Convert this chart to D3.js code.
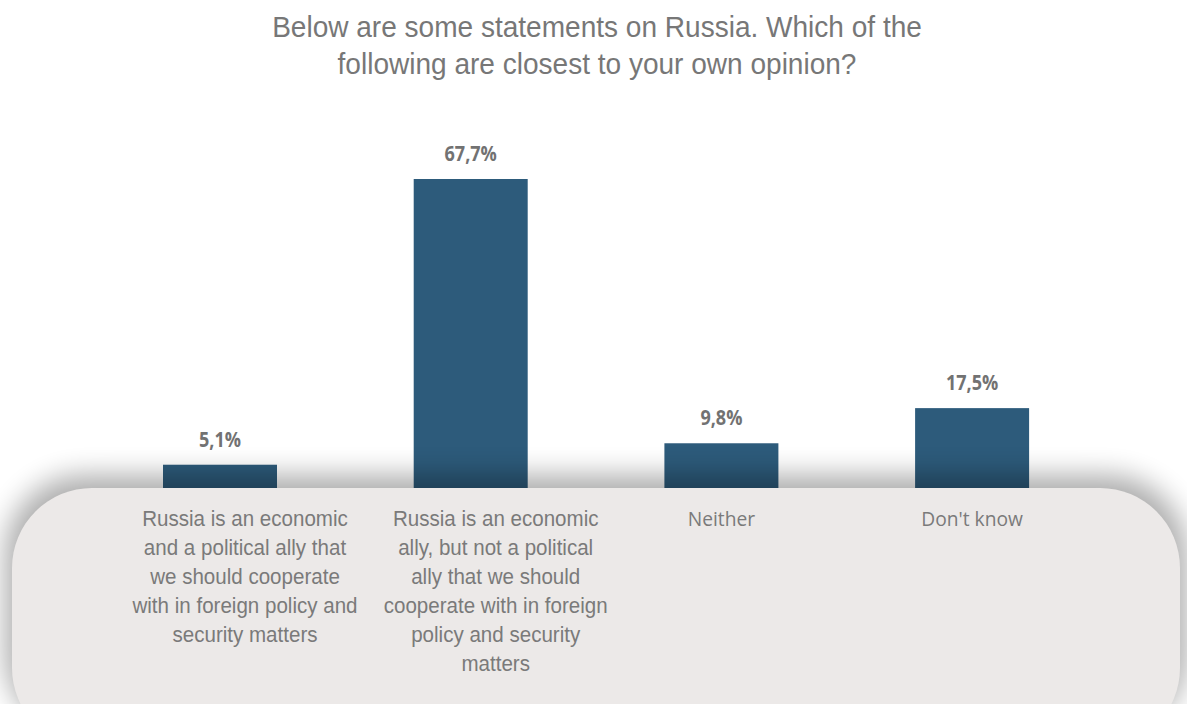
<!DOCTYPE html>
<html>
<head>
<meta charset="utf-8">
<script src="https://cdn.jsdelivr.net/npm/d3@7"></script>
<style>
  html, body { margin: 0; padding: 0; background: #ffffff; }
  svg { display: block; }
</style>
</head>
<body>
<svg id="chart" width="1187" height="704"></svg>
<script>
// Survey answers and their shares (%)
const categories = [
  "Russia is an economic and a political ally that we should cooperate with in foreign policy and security matters",
  "Russia is an economic ally, but not a political ally that we should cooperate with in foreign policy and security matters",
  "Neither",
  "Don't know"
];
const values = [5.1, 67.7, 9.8, 17.5];
const valueLabels = ["5,1%", "67,7%", "9,8%", "17,5%"];
const categoryLines = [
  ["Russia is an economic", "and a political ally that", "we should cooperate", "with in foreign policy and", "security matters"],
  ["Russia is an economic", "ally, but not a political", "ally that we should", "cooperate with in foreign", "policy and security", "matters"],
  ["Neither"],
  ["Don't know"]
];
const titleLines = [
  "Below are some statements on Russia. Which of the",
  "following are closest to your own opinion?"
];

const W = 1187, H = 704;
const baseY = 488;
const svg = d3.select("#chart");
const defs = svg.append("defs");

const x = d3.scaleBand()
  .domain(categories)
  .range([163, 1029.1])
  .paddingInner(0.5453)
  .paddingOuter(0);

const y = d3.scaleLinear()
  .domain([0, 67.7])
  .range([baseY, 179]);

// title
svg.append("g")
  .selectAll("text")
  .data(titleLines)
  .join("text")
  .attr("transform", (d, i) => `translate(597,${37 + i * 37}) scale(0.967,1)`)
  .attr("text-anchor", "middle")
  .attr("font-family", "Liberation Sans, Arial, sans-serif")
  .attr("font-size", 29)
  .attr("fill", "#777777")
  .text(d => d);

// bars
svg.append("g")
  .selectAll("rect")
  .data(values)
  .join("rect")
  .attr("x", (d, i) => x(categories[i]))
  .attr("width", x.bandwidth())
  .attr("y", d => y(d))
  .attr("height", d => baseY - y(d))
  .attr("fill", "#2d5b7b");

// value labels
svg.append("g")
  .selectAll("text")
  .data(values)
  .join("text")
  .attr("transform", (d, i) =>
    `translate(${x(categories[i]) + x.bandwidth() / 2},${y(d) - 18}) scale(0.86,1)`)
  .attr("text-anchor", "middle")
  .attr("font-family", "Open Sans, sans-serif")
  .attr("font-weight", "bold")
  .attr("font-size", 21)
  .attr("fill", "#727272")
  .text((d, i) => valueLabels[i]);

// soft shadow cast by the lower panel
const blur = defs.append("filter")
  .attr("id", "panelShadow")
  .attr("x", "-10%").attr("y", "-30%")
  .attr("width", "120%").attr("height", "160%");
blur.append("feGaussianBlur").attr("stdDeviation", 14);

const panel = { x: 12, y: baseY, w: 1168, h: 260, r: 80 };

svg.append("rect")
  .attr("x", panel.x - 7)
  .attr("y", panel.y - 13)
  .attr("width", panel.w + 14)
  .attr("height", panel.h)
  .attr("rx", panel.r)
  .attr("fill", "#000000")
  .attr("opacity", 0.32)
  .attr("filter", "url(#panelShadow)");

svg.append("rect")
  .attr("x", panel.x)
  .attr("y", panel.y)
  .attr("width", panel.w)
  .attr("height", panel.h)
  .attr("rx", panel.r)
  .attr("fill", "#ece9e8");

// category labels: wrapped statements sit in a text box shifted right of the bar centre
const catG = svg.append("g")
  .attr("fill", "#7a7a7a")
  .attr("text-anchor", "middle");

categoryLines.forEach((lines, i) => {
  const long = lines.length > 1;
  const cx = x(categories[i]) + x.bandwidth() / 2 + (long ? 25 : 0);
  catG.append("text")
    .attr("transform", `translate(${cx},526) scale(${long ? 0.935 : 0.96},1)`)
    .attr("font-family", long ? "Liberation Sans, Arial, sans-serif" : "Open Sans, sans-serif")
    .attr("font-size", long ? 22 : 20)
    .selectAll("tspan")
    .data(lines)
    .join("tspan")
    .attr("x", 0)
    .attr("y", (d, j) => j * 29)
    .text(d => d);
});
</script>
</body>
</html>
